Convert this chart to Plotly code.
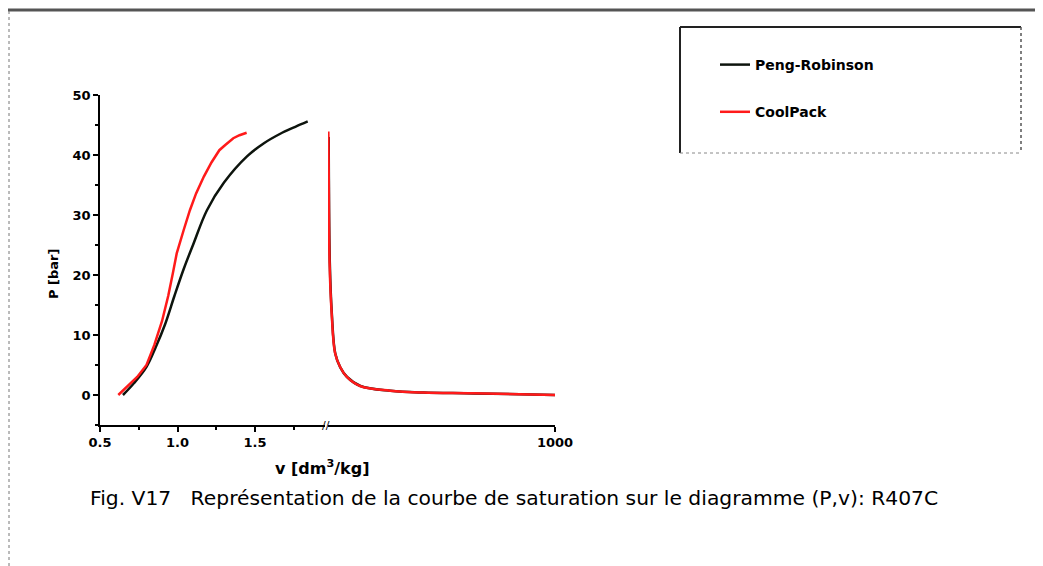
"""Saturation curve (P, v) for R407C: Peng-Robinson vs CoolPack, broken v axis."""
import plotly.graph_objects as go

# Liquid branch (left, linear v axis)
pr_liq_v = [0.648, 0.72, 0.80, 0.86, 0.92, 0.98, 1.04, 1.10, 1.19, 1.30, 1.45, 1.56, 1.66, 1.76, 1.84]
pr_liq_p = [0.0, 2.0, 4.7, 8.0, 11.8, 16.5, 21.0, 25.0, 30.8, 35.4, 39.8, 42.0, 43.5, 44.7, 45.6]

cp_liq_v = [0.618, 0.68, 0.74, 0.80, 0.85, 0.90, 0.94, 0.97, 0.995, 1.04, 1.08, 1.12,
            1.17, 1.22, 1.27, 1.31, 1.36, 1.40, 1.446]
cp_liq_p = [0.0, 1.5, 3.0, 5.0, 8.3, 12.3, 16.5, 20.3, 23.6, 27.5, 30.8, 33.6,
            36.4, 38.8, 40.8, 41.7, 42.8, 43.3, 43.7]

# Vapour branch (right segment of the broken axis, up to 1000)
pr_vap_v = [3, 8, 17, 32, 54, 84, 143, 276, 420, 640, 1000]
pr_vap_p = [43.0, 22.0, 13.5, 6.9, 4.6, 3.0, 1.5, 0.7, 0.4, 0.27, 0.0]

cp_vap_v = [1.5, 3, 7, 16, 31, 53, 82, 141, 273, 418, 639, 1000]
cp_vap_p = [43.9, 38.0, 22.0, 13.7, 7.0, 4.7, 3.05, 1.5, 0.72, 0.4, 0.28, 0.0]

y_ticks = [0, 10, 20, 30, 40, 50]
x_ticks_left = [0.5, 1.0, 1.5]
x_ticks_right = [1000]

# plot area in reference pixels (the page adds an 8 px body margin)
OFF = 8
L, T, W, H = 100, 95, 455, 330
FIG_W, FIG_H = 1043 - OFF, 566 - OFF


def px_x(p):
    return (p - L) / W


def px_y(p):
    return (T + H - p) / H


BLACK = '#0d140d'
RED = '#ff1a1a'
FONT = 'DejaVu Sans, Arial, sans-serif'

fig = go.Figure()

fig.add_trace(go.Scatter(
    x=pr_liq_v, y=pr_liq_p, mode='lines', name='Peng-Robinson',
    line=dict(color=BLACK, width=2.5, shape='spline'),
    legendgroup='pr'
))
fig.add_trace(go.Scatter(
    x=pr_vap_v, y=pr_vap_p, mode='lines', xaxis='x2', showlegend=False,
    line=dict(color=BLACK, width=2.5, shape='spline'),
    legendgroup='pr'
))
fig.add_trace(go.Scatter(
    x=cp_liq_v, y=cp_liq_p, mode='lines', name='CoolPack',
    line=dict(color=RED, width=2.5),
    legendgroup='cp'
))
fig.add_trace(go.Scatter(
    x=cp_vap_v, y=cp_vap_p, mode='lines', xaxis='x2', showlegend=False,
    line=dict(color=RED, width=2.5, shape='spline'),
    legendgroup='cp'
))

axis_common = dict(
    showgrid=False, zeroline=False, showline=True, linecolor='black', linewidth=1.5,
    ticks='outside', ticklen=5, tickwidth=1.5, tickcolor='black',
    tickfont=dict(family=FONT, size=13, color='black', weight='bold'),
)

fig.update_layout(
    width=FIG_W, height=FIG_H,
    margin=dict(l=L - OFF, r=FIG_W - (L - OFF) - W, t=T - OFF, b=FIG_H - (T - OFF) - H),
    paper_bgcolor='white', plot_bgcolor='white',
    font=dict(family=FONT, color='black'),
    xaxis=dict(
        domain=[0, px_x(325)], range=[0.5, 0.5 + 225 / 155],
        tickvals=x_ticks_left, ticktext=['0.5', '1.0', '1.5'],
        minor=dict(tick0=0.5, dtick=0.25, ticks='outside', ticklen=3, tickcolor='black'),
        anchor='y', **axis_common
    ),
    xaxis2=dict(
        domain=[px_x(328), 1], range=[0, 1000],
        tickvals=x_ticks_right, ticktext=['1000'],
        anchor='y', **axis_common
    ),
    yaxis=dict(
        range=[-5, 50], tickvals=y_ticks,
        minor=dict(tick0=0, dtick=5, ticks='outside', ticklen=3, tickcolor='black'),
        **axis_common
    ),
    showlegend=True,
    legend=dict(
        x=px_x(715), y=px_y(49), xanchor='left', yanchor='top',
        bgcolor='rgba(0,0,0,0)', tracegroupgap=26,
        font=dict(family=FONT, size=14, color='black', weight='bold'),
    ),
)

# break marker on the v axis
fig.add_annotation(
    x=px_x(326), y=0, xref='paper', yref='paper', text='//', showarrow=False,
    font=dict(family=FONT, size=11, color='black'), yanchor='middle', xanchor='center'
)

# axis titles
fig.add_annotation(
    x=px_x(53), y=px_y(274), xref='paper', yref='paper', text='P [bar]', showarrow=False,
    textangle=-90, xanchor='center', yanchor='middle',
    font=dict(family=FONT, size=13, color='black', weight='bold')
)
fig.add_annotation(
    x=px_x(322), y=px_y(467), xref='paper', yref='paper', text='v [dm<sup>3</sup>/kg]',
    showarrow=False, xanchor='center', yanchor='middle',
    font=dict(family=FONT, size=16, color='black', weight='bold')
)

# caption
fig.add_annotation(
    x=px_x(88), y=px_y(498), xref='paper', yref='paper', xanchor='left', yanchor='middle',
    text='Fig. V17   Représentation de la courbe de saturation sur le diagramme (P,v): R407C',
    showarrow=False, font=dict(family=FONT, size=20.3, color='black')
)

# legend frame: solid top/left, dotted right/bottom
fig.add_shape(type='line', xref='paper', yref='paper',
              x0=px_x(680), x1=px_x(1021), y0=px_y(27), y1=px_y(27),
              line=dict(color='#222', width=2))
fig.add_shape(type='line', xref='paper', yref='paper',
              x0=px_x(680), x1=px_x(680), y0=px_y(27), y1=px_y(153),
              line=dict(color='#222', width=2))
fig.add_shape(type='line', xref='paper', yref='paper',
              x0=px_x(1021), x1=px_x(1021), y0=px_y(27), y1=px_y(153),
              line=dict(color='#555', width=1.5, dash='dot'))
fig.add_shape(type='line', xref='paper', yref='paper',
              x0=px_x(680), x1=px_x(1021), y0=px_y(153), y1=px_y(153),
              line=dict(color='#888', width=1, dash='dot'))

# page border from the scan
fig.add_shape(type='line', xref='paper', yref='paper',
              x0=px_x(OFF), x1=px_x(1043), y0=px_y(10), y1=px_y(10),
              line=dict(color='#555', width=3))
fig.add_shape(type='line', xref='paper', yref='paper',
              x0=px_x(OFF + 1), x1=px_x(OFF + 1), y0=px_y(11), y1=px_y(566),
              line=dict(color='#777', width=1, dash='dot'))

fig.write_html("out.html")
